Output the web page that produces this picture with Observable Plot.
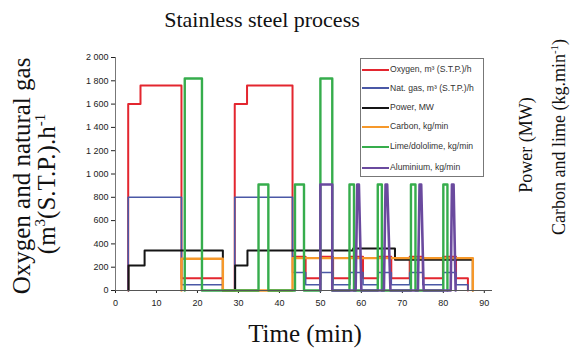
<!DOCTYPE html>
<html><head><meta charset="utf-8">
<script src="https://cdn.jsdelivr.net/npm/d3@7"></script>
<script src="https://cdn.jsdelivr.net/npm/@observablehq/plot@0.6"></script>
<style>
body{margin:0;background:#fff;}
#wrap{position:relative;width:583px;height:353px;overflow:hidden;background:#fff;}
.t{position:absolute;white-space:nowrap;line-height:1;color:#111;font-family:"Liberation Serif","Times New Roman",serif;transform:translate(-50%,-50%);}
.r{transform:translate(-50%,-50%) rotate(-90deg);}
#legend{position:absolute;left:360px;top:58px;width:122px;height:117px;border:1px solid #777;background:#fff;font-family:"Liberation Sans",Arial,sans-serif;font-size:8.6px;color:#333;}
.row{position:absolute;left:1px;height:10px;line-height:10px;white-space:nowrap;}
.row span.sw{display:inline-block;width:27px;height:2px;vertical-align:middle;margin-right:1px;}
sup{font-size:0.6em;line-height:0;}
</style></head>
<body>
<div id="wrap">
  <div id="chart"></div>
  <div class="t" style="left:262px;top:20px;font-size:22px;">Stainless steel process</div>
  <div class="t r" style="left:21px;top:176px;font-size:25px;">Oxygen and natural gas</div>
  <div class="t r" style="left:46px;top:184px;font-size:25px;">(m<sup>3</sup>(S.T.P.).h<sup>-1</sup></div>
  <div class="t r" style="left:526px;top:145px;font-size:18px;">Power (MW)</div>
  <div class="t r" style="left:559px;top:137px;font-size:18px;">Carbon and lime (kg.min<sup>-1</sup>)</div>
  <div class="t" style="left:305px;top:333px;font-size:25px;">Time (min)</div>
  <div id="legend"></div>
</div>
<script>
// ---- data ----
const xTicks = [0, 10, 20, 30, 40, 50, 60, 70, 80, 90];
const yTicks = [0, 200, 400, 600, 800, 1000, 1200, 1400, 1600, 1800, 2000];

const seriesNames = ["Oxygen, m³ (S.T.P.)/h", "Nat. gas, m³ (S.T.P.)/h", "Power, MW", "Carbon, kg/min", "Lime/dololime, kg/min", "Aluminium, kg/min"];
const seriesColors = ["#e3262f", "#4a58a6", "#151515", "#f6982a", "#36ad4c", "#6a4a9e"];

// step series: change points (time, value), value holds until next time
const oxygenT = [3.1, 3.1, 6.1, 16.1, 26.2, 29.1, 32.1, 43.2, 46.4, 50.0, 53.1, 57.2, 60.4, 64.1, 67.3, 71.8, 75.0, 79.9, 83.1, 86.0];
const oxygenV = [0, 1600, 1760, 106, 0, 1600, 1760, 290, 106, 290, 106, 290, 106, 290, 106, 290, 106, 290, 106, 0];

const gasT = [3.1, 3.1, 16.1, 26.2, 29.1, 43.2, 46.4, 50.0, 53.1, 57.2, 60.4, 64.1, 67.3, 71.8, 75.0, 79.9, 83.1, 86.0];
const gasV = [0, 800, 50, 0, 800, 155, 50, 155, 50, 155, 50, 155, 50, 155, 50, 155, 50, 0];

const powerT = [3.2, 3.2, 7.1, 26.2, 29.2, 32.2, 58.0, 68.2, 87.2];
const powerV = [0, 215, 343, 0, 215, 343, 360, 265, 0];

const carbonT = [16.1, 16.1, 26.2, 43.2, 87.2];
const carbonV = [0, 272, 0, 278, 0];

const limeT = [16.9, 16.9, 21.1, 34.9, 37.3, 43.8, 46.0, 50.0, 52.9, 57.1, 58.2, 64.0, 65.0, 72.1, 73.2, 80.0, 81.0];
const limeV = [0, 1820, 0, 910, 0, 910, 0, 1820, 0, 910, 0, 910, 0, 910, 0, 910, 0];

// aluminium: straight-line vertices
const aluT = [50.0, 50.0, 52.9, 52.9, 58.6, 59.0, 59.4, 60.0, 65.5, 65.9, 66.3, 67.1, 73.8, 74.2, 74.6, 75.2, 81.8, 82.1, 82.5, 83.0];
const aluV = [0, 910, 910, 0, 0, 910, 910, 0, 0, 910, 910, 0, 0, 910, 910, 0, 0, 910, 910, 0];

// ---- build tables ----
const zip = (T, V) => T.map((t, i) => ({t, v: V[i]}));
const stepSeries = [zip(oxygenT, oxygenV), zip(gasT, gasV), zip(powerT, powerV), zip(carbonT, carbonV), zip(limeT, limeV)];
const widths = [2, 1.6, 2, 2.4, 2.4, 2.6];

const fmt = d => d >= 1000 ? d3.format(",")(d).replace(",", " ") : String(d);

const marks = [
  Plot.ruleX([0], {stroke: "#777", strokeWidth: 1}),
];
stepSeries.forEach((data, i) => {
  marks.push(Plot.line(data, {x: "t", y: "v", curve: "step-after", stroke: seriesColors[i], strokeWidth: widths[i]}));
});
marks.push(Plot.line(zip(aluT, aluV), {x: "t", y: "v", curve: "linear", stroke: seriesColors[5], strokeWidth: widths[5]}));
marks.push(Plot.ruleY([0], {stroke: "#555", strokeWidth: 1}));

const chart = Plot.plot({
  width: 583, height: 353,
  marginLeft: 115, marginRight: 91, marginTop: 57, marginBottom: 63,
  style: {fontFamily: "'Liberation Sans', Arial, sans-serif", fontSize: "9px", color: "#222", background: "transparent", overflow: "visible"},
  x: {domain: [0, 92], ticks: xTicks, tickSize: 3, tickPadding: 6, label: null, tickFormat: d => String(d)},
  y: {domain: [0, 2000], ticks: yTicks, tickSize: 4, tickPadding: 3, label: null, tickFormat: fmt},
  marks
});
document.getElementById("chart").appendChild(chart);

// ---- legend ----
const legend = document.getElementById("legend");
const rowTops = [5, 23.5, 43, 62, 82, 103];
seriesNames.forEach((name, i) => {
  const row = document.createElement("div");
  row.className = "row";
  row.style.top = rowTops[i] + "px";
  const sw = document.createElement("span");
  sw.className = "sw";
  sw.style.background = seriesColors[i];
  row.appendChild(sw);
  row.appendChild(document.createTextNode(name));
  legend.appendChild(row);
});
</script>
</body></html>
